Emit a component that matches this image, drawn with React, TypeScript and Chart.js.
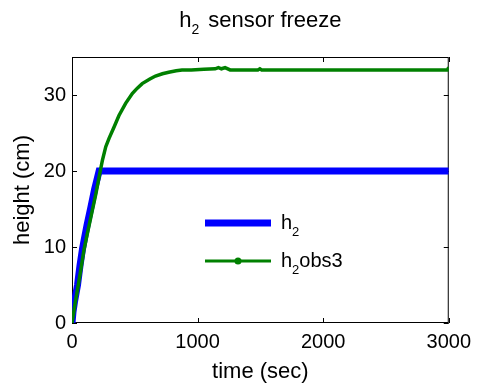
import React, { useEffect, useRef } from "react";
import { Chart, registerables } from "chart.js";

Chart.register(...registerables);

// ---- data ----
const h2Time = [0, 8, 20, 44, 64, 84, 100, 120, 150, 180, 216, 225, 3000];
const h2Height = [0, 1.5, 2.8, 5.0, 7.6, 9.8, 11.2, 12.9, 15.2, 17.6, 20, 20, 20];

const obsTime = [
  0, 10, 25, 50, 70, 95, 120, 160, 190, 225, 242, 269, 295, 335, 374, 427, 480, 520, 559,
  620, 665, 720, 770, 830, 876, 950, 1050, 1140, 1166, 1190, 1219, 1259, 1400, 1480, 1496,
  1510, 1700, 2000, 2500, 2990, 3000,
];
const obsHeight = [
  0, 1.0, 2.6, 5.0, 7.0, 9.6, 11.6, 14.7, 17.0, 20.0, 21.4, 23.2, 24.3, 25.8, 27.3,
  28.9, 30.2, 30.9, 31.5, 32.1, 32.5, 32.8, 33.0, 33.2, 33.3, 33.3, 33.4, 33.45, 33.6, 33.45, 33.6,
  33.3, 33.3, 33.3, 33.45, 33.3, 33.3, 33.3, 33.3, 33.3, 33.65,
];

const xTicks = [0, 1000, 2000, 3000];
const yTicks = [0, 10, 20, 30];
const xMin = 0;
const xMax = 3000;
const yMin = 0;
const yMax = 35;

const titleParts = ["h", "2", "sensor freeze"];
const xLabel = "time (sec)";
const yLabel = "height (cm)";
const seriesNames = [
  ["h", "2", ""],
  ["h", "2", "obs3"],
];

const FONT = '"Liberation Sans", Arial, Helvetica, sans-serif';
const BLUE = "#0000ff";
const GREEN = "#008000";

function drawSub(
  ctx: CanvasRenderingContext2D,
  x: number,
  baseline: number,
  main: string,
  sub: string,
  rest: string,
  size: number,
  subSize: number,
  drop: number,
  gap: number
) {
  ctx.textAlign = "left";
  ctx.textBaseline = "alphabetic";
  ctx.font = `${size}px ${FONT}`;
  ctx.fillText(main, x, baseline);
  let cx = x + ctx.measureText(main).width;
  ctx.font = `${subSize}px ${FONT}`;
  ctx.fillText(sub, cx, baseline + drop);
  cx += ctx.measureText(sub).width + gap;
  ctx.font = `${size}px ${FONT}`;
  ctx.fillText(rest, cx, baseline);
}

function subWidth(ctx: CanvasRenderingContext2D, main: string, sub: string, rest: string, size: number, subSize: number, gap: number) {
  ctx.font = `${size}px ${FONT}`;
  let w = ctx.measureText(main).width + ctx.measureText(rest).width;
  ctx.font = `${subSize}px ${FONT}`;
  w += ctx.measureText(sub).width + gap;
  return w;
}

const decorPlugin = {
  id: "matlabDecor",
  beforeDatasetsDraw(chart: any) {
    const { ctx, chartArea } = chart;
    const { left, right, top, bottom } = chartArea;
    const xs = chart.scales.x;
    const ys = chart.scales.y;
    ctx.save();
    ctx.strokeStyle = "#000";
    ctx.lineWidth = 1;
    ctx.strokeRect(left + 0.5, top + 0.5, right - left - 1, bottom - top - 1);
    const tl = 5;
    ctx.beginPath();
    for (const v of xTicks) {
      const px = Math.round(xs.getPixelForValue(v)) + 0.5;
      ctx.moveTo(px, bottom);
      ctx.lineTo(px, bottom - tl);
      ctx.moveTo(px, top);
      ctx.lineTo(px, top + tl);
    }
    for (const v of yTicks) {
      const py = Math.round(ys.getPixelForValue(v)) + 0.5;
      ctx.moveTo(left, py);
      ctx.lineTo(left + tl, py);
      ctx.moveTo(right, py);
      ctx.lineTo(right - tl, py);
    }
    ctx.stroke();
    ctx.restore();
  },
  afterDraw(chart: any) {
    const { ctx, chartArea } = chart;
    const { left, right, top } = chartArea;
    ctx.save();
    ctx.fillStyle = "#000";
    // title
    const gap = 9;
    const tw = subWidth(ctx, titleParts[0], titleParts[1], titleParts[2], 22, 14, gap);
    const tx = (left + right) / 2 - tw / 2;
    drawSub(ctx, tx, 27, titleParts[0], titleParts[1], titleParts[2], 22, 14, 7, gap);

    // legend
    const x0 = left + 133;
    const x1 = left + 199;
    const ly = [top + 166, top + 204];
    const colors = [BLUE, GREEN];
    const widths = [7, 3];
    for (let i = 0; i < 2; i++) {
      ctx.strokeStyle = colors[i];
      ctx.lineWidth = widths[i];
      ctx.lineCap = "butt";
      ctx.beginPath();
      ctx.moveTo(x0, ly[i]);
      ctx.lineTo(x1, ly[i]);
      ctx.stroke();
      if (i === 1) {
        ctx.fillStyle = GREEN;
        ctx.beginPath();
        ctx.arc((x0 + x1) / 2, ly[i], 3.5, 0, Math.PI * 2);
        ctx.fill();
      }
      ctx.fillStyle = "#000";
      const n = seriesNames[i];
      drawSub(ctx, left + 209, ly[i] + 6, n[0], n[1], n[2], 20, 13, 7, 0);
    }
    ctx.restore();
  },
};

export default function App() {
  const canvasRef = useRef<HTMLCanvasElement | null>(null);

  useEffect(() => {
    const canvas = canvasRef.current;
    if (!canvas) return;
    const chart = new Chart(canvas, {
      type: "line",
      data: {
        datasets: [
          {
            label: "h2obs3",
            data: obsTime.map((t, i) => ({ x: t, y: obsHeight[i] })),
            borderColor: GREEN,
            backgroundColor: GREEN,
            borderWidth: 3.5,
            pointRadius: 0,
            tension: 0,
            order: 1,
          },
          {
            label: "h2",
            data: h2Time.map((t, i) => ({ x: t, y: h2Height[i] })),
            borderColor: BLUE,
            backgroundColor: BLUE,
            borderWidth: 7,
            pointRadius: 0,
            tension: 0,
            order: 2,
          },
        ],
      },
      options: {
        animation: false,
        responsive: false,
        maintainAspectRatio: false,
        layout: { padding: { left: 0, right: 26, top: 57, bottom: 0 } },
        plugins: {
          legend: { display: false },
          title: { display: false },
          tooltip: { enabled: false },
        },
        scales: {
          x: {
            type: "linear",
            min: xMin,
            max: xMax,
            afterFit: (s: any) => {
              s.height = 62;
            },
            afterBuildTicks: (s: any) => {
              s.ticks = xTicks.map((v) => ({ value: v }));
            },
            grid: { display: false, drawTicks: false },
            border: { display: false },
            ticks: {
              color: "#000",
              padding: 7,
              maxRotation: 0,
              font: { family: FONT, size: 20 },
              callback: (v: any) => String(v),
            },
            title: {
              display: true,
              text: xLabel,
              color: "#000",
              font: { family: FONT, size: 22 },
              padding: { top: 0, bottom: 0 },
            },
          },
          y: {
            type: "linear",
            min: yMin,
            max: yMax,
            afterFit: (s: any) => {
              s.width = 72;
            },
            afterBuildTicks: (s: any) => {
              s.ticks = yTicks.map((v) => ({ value: v }));
            },
            grid: { display: false, drawTicks: false },
            border: { display: false },
            ticks: {
              color: "#000",
              padding: 6,
              font: { family: FONT, size: 20 },
              callback: (v: any) => String(v),
            },
            title: {
              display: true,
              text: yLabel,
              color: "#000",
              font: { family: FONT, size: 22 },
              padding: { top: 10, bottom: 0 },
            },
          },
        },
      },
      plugins: [decorPlugin],
    });
    return () => chart.destroy();
  }, []);

  return (
    <div style={{ position: "absolute", left: 0, top: 0, width: 478, height: 385, background: "#fff" }}>
      <canvas ref={canvasRef} width={478} height={385} style={{ display: "block" }} />
    </div>
  );
}
